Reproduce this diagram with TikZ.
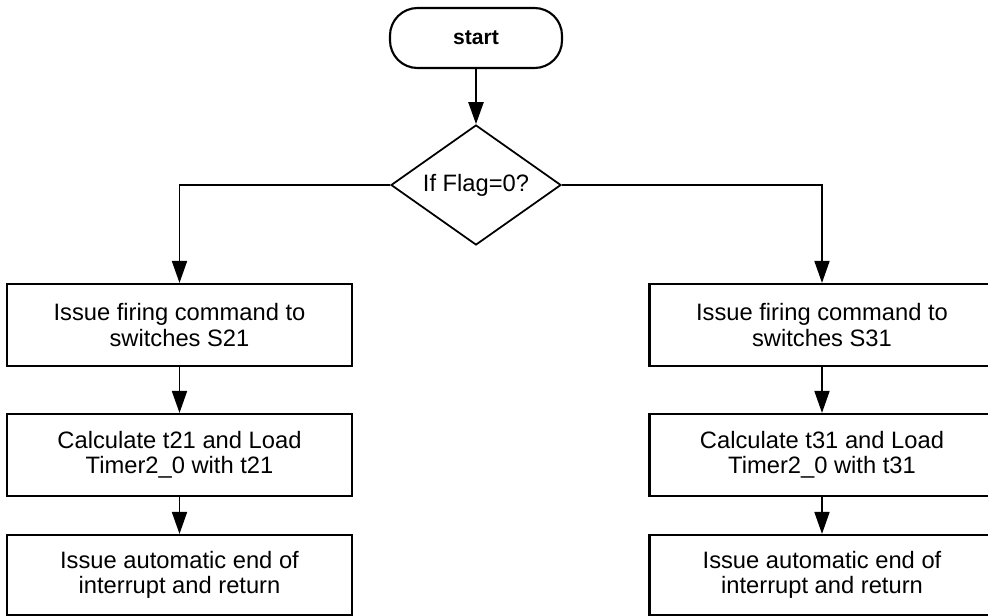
\documentclass[tikz,border=0pt]{standalone}
\usepackage{fontspec}
\setmainfont{Liberation Sans}
\usetikzlibrary{shapes.geometric,arrows.meta}

\begin{document}
\begin{tikzpicture}[
    txt/.style={font=\fontsize{13.5}{14.5}\selectfont, align=center},
    box/.style={rectangle, draw, line width=1.2pt, minimum width=6.9cm,
      minimum height=1.64cm, inner sep=0pt, txt},
    term/.style={rectangle, draw, line width=1.2pt, rounded corners=0.55cm,
      minimum width=3.44cm, minimum height=1.2cm,
      font=\fontsize{12}{14}\selectfont\bfseries},
    decide/.style={diamond, draw, line width=1pt, inner sep=0pt, aspect=1.42,
      minimum width=3.4cm, minimum height=2.4cm, txt},
    arr/.style={-{Triangle[length=0.44cm, width=0.3cm]}, line width=1pt}
  ]
  \useasboundingbox (0,0) rectangle (19.76,-12.32);
  \clip (0,0) rectangle (19.76,-12.32);

  % start and test
  \node[term] (start) at (9.52, -0.76) {start};
  \node[decide] (flag) at (9.52, -3.7) {If Flag=0?};
  \draw[arr, line width=1.4pt] (start) -- (flag);

  % left branch: S21
  \node[box] (l1) at (3.59, -6.5) {Issue firing command to\\switches S21};
  \node[box] (l2) at (3.59, -9.1) {Calculate t21 and Load\\Timer2\_0 with t21};
  \node[box, minimum height=1.6cm] (l3) at (3.59, -11.5) {Issue automatic end of\\interrupt and return};
  \draw[arr] (flag.west) -| (l1.north);
  \draw[arr] (l1) -- (l2);
  \draw[arr] (l2) -- (l3);

  % right branch: S31
  \node[box] (r1) at (16.44, -6.5) {Issue firing command to\\switches S31};
  \node[box] (r2) at (16.44, -9.1) {Calculate t31 and Load\\Timer2\_0 with t31};
  \node[box, minimum height=1.6cm] (r3) at (16.44, -11.5) {Issue automatic end of\\interrupt and return};
  \draw[arr] (flag.east) -| (r1.north);
  \draw[arr] (r1) -- (r2);
  \draw[arr] (r2) -- (r3);
\end{tikzpicture}
\end{document}
